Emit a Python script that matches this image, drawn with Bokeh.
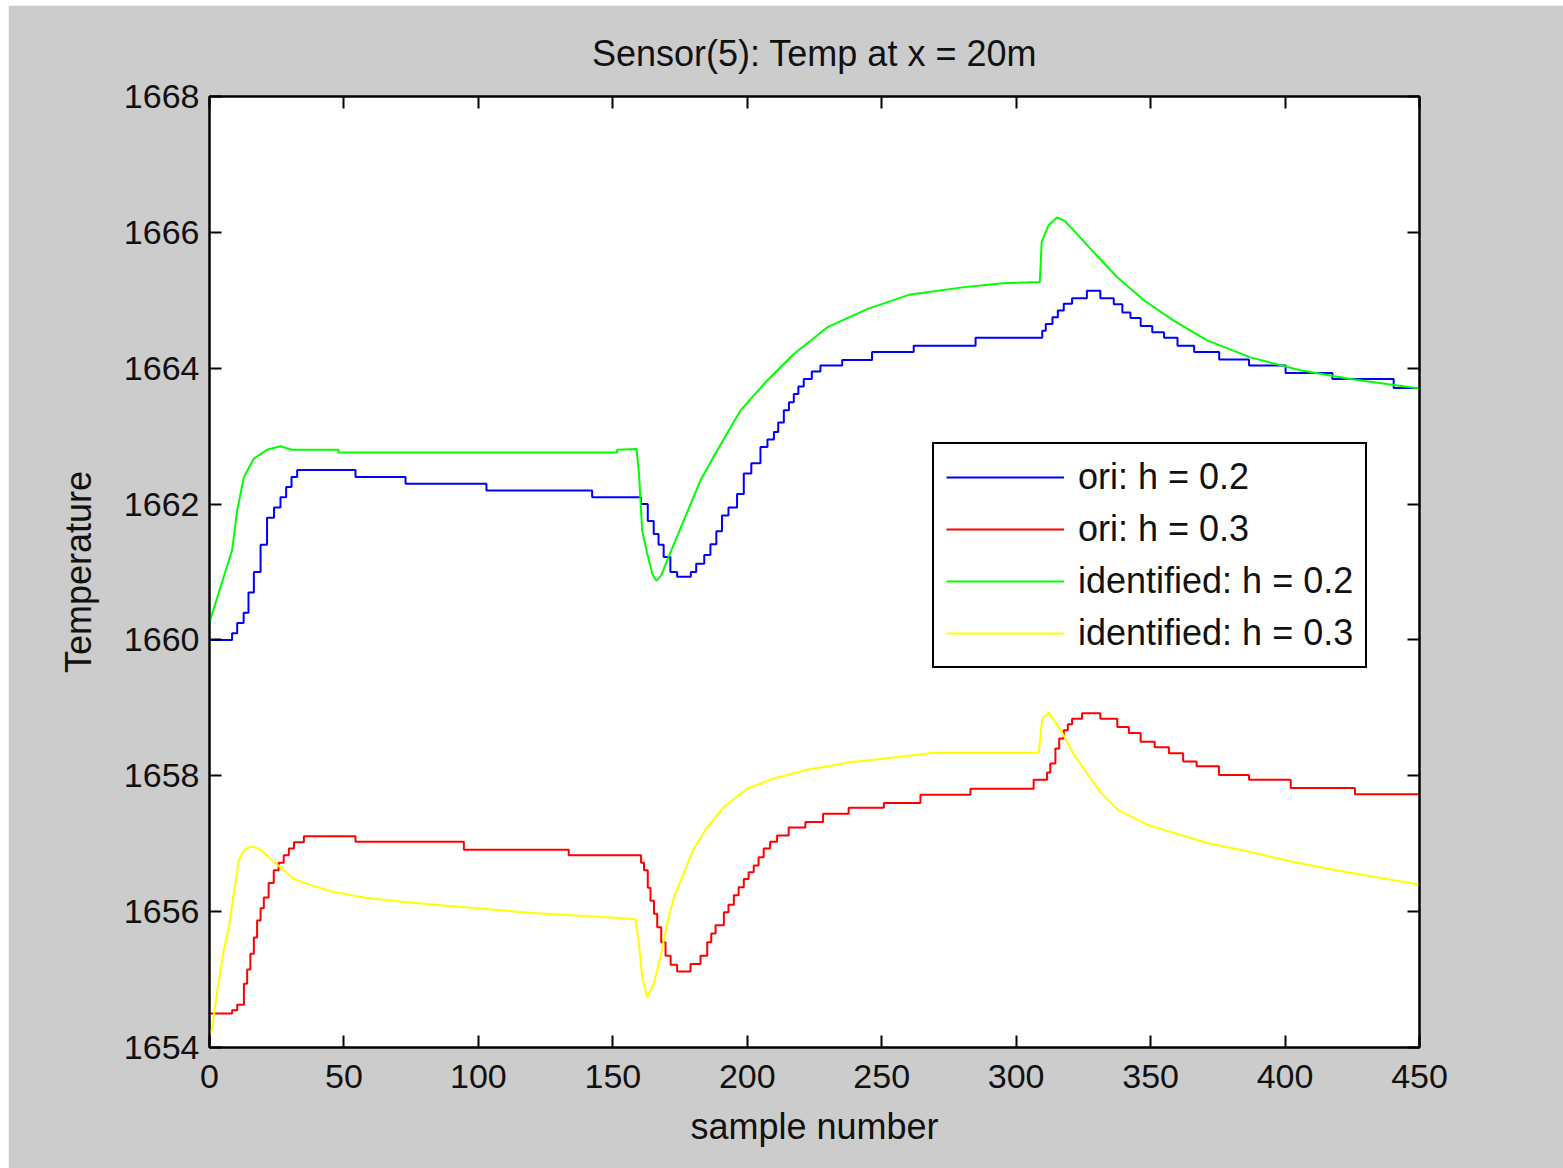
from bokeh.plotting import figure
from bokeh.models import Range1d, FixedTicker, LinearAxis, CustomJSTickFormatter, Legend, LegendItem
from bokeh.embed import file_html
from bokeh.resources import INLINE

# ---------------- data ----------------
title_text = "Sensor(5): Temp at x = 20m"
x_label = "sample number"
y_label = "Temperature"
x_ticks = [0, 50, 100, 150, 200, 250, 300, 350, 400, 450]
y_ticks = [1654, 1656, 1658, 1660, 1662, 1664, 1666, 1668]

# ori: h = 0.2 (stair-stepped data; x where each level starts)
ori02_x = [0, 8.4, 10.3, 12.7, 14.5, 16.5, 19, 21.4, 24, 26.4, 28.5, 30.5, 32.6, 54.3, 72.9, 103, 142.3,
           160.5, 163, 165.2, 167, 168.9, 171.4, 173.9, 179, 181, 184, 186.3, 188.5, 190.6, 193, 196.2,
           198.7, 201.5, 204.9, 207.5, 209.9, 211.5, 213.6, 215.5, 217.3, 219, 221, 224, 227.2, 235.3,
           246.4, 261.9, 284.9, 309.7, 311, 313.5, 315.5, 317.7, 320.8, 326.3, 331.3, 336.3, 339.5,
           342.5, 346.3, 350.6, 355, 360, 366.2, 375.5, 386.6, 400.2, 417.6, 440.4, 450]
ori02_y = [1660.0, 1660.1, 1660.25, 1660.4, 1660.7, 1661.0, 1661.4, 1661.8, 1661.95, 1662.1, 1662.25,
           1662.4, 1662.5, 1662.4, 1662.3, 1662.2, 1662.1, 1662.0, 1661.75, 1661.56, 1661.4, 1661.22,
           1661.0, 1660.93, 1661.0, 1661.12, 1661.25, 1661.41, 1661.6, 1661.83, 1661.95, 1662.15,
           1662.45, 1662.6, 1662.84, 1662.95, 1663.06, 1663.2, 1663.38, 1663.5, 1663.62, 1663.73,
           1663.84, 1663.95, 1664.04, 1664.12, 1664.24, 1664.33, 1664.45, 1664.55, 1664.65, 1664.75,
           1664.85, 1664.95, 1665.03, 1665.14, 1665.03, 1664.94, 1664.82, 1664.74, 1664.62, 1664.53,
           1664.45, 1664.33, 1664.24, 1664.13, 1664.04, 1663.93, 1663.84, 1663.71, 1663.71]

# ori: h = 0.3 (stair-stepped)
ori03_x = [0, 8.4, 10.3, 12.8, 14, 15.2, 16.5, 17.7, 19, 20.2, 22, 23.9, 25.7, 27.6, 29.5, 31.4, 35.1,
           54.3, 94.6, 133.6, 160.5, 161.6, 163, 164, 165.3, 166.5, 168, 169.6, 171.5, 173.9, 178.9,
           182.6, 185.1, 186.6, 188.2, 191.3, 193, 195, 196.8, 198.7, 200.5, 202.4, 204.2, 206.1, 208.5,
           211.1, 215.4, 221.6, 228.2, 237.7, 250.8, 264.4, 283, 306.5, 311.5, 312.7, 314.6, 316, 317.7,
           319.2, 320.8, 324.5, 331.3, 337.6, 341.9, 346.3, 351.5, 356.8, 362.1, 367.1, 375.4, 386.6,
           402.1, 426, 450]
ori03_y = [1654.5, 1654.55, 1654.63, 1654.94, 1655.15, 1655.38, 1655.62, 1655.87, 1656.05, 1656.21,
           1656.42, 1656.61, 1656.72, 1656.83, 1656.93, 1657.02, 1657.11, 1657.03, 1656.91, 1656.83,
           1656.72, 1656.61, 1656.35, 1656.16, 1655.97, 1655.77, 1655.55, 1655.35, 1655.22, 1655.12,
           1655.23, 1655.35, 1655.55, 1655.68, 1655.8, 1655.99, 1656.1, 1656.24, 1656.36, 1656.48,
           1656.58, 1656.68, 1656.8, 1656.93, 1657.03, 1657.12, 1657.24, 1657.32, 1657.44, 1657.53,
           1657.6, 1657.72, 1657.81, 1657.94, 1658.05, 1658.18, 1658.4, 1658.55, 1658.67, 1658.76,
           1658.84, 1658.92, 1658.84, 1658.72, 1658.63, 1658.5, 1658.42, 1658.33, 1658.21, 1658.14,
           1658.01, 1657.94, 1657.82, 1657.73, 1657.73]

# identified: h = 0.2
id02_x = [0, 4.1, 8.4, 10.3, 12.8, 16.5, 21.4, 26.4, 30.7, 48, 48, 151.6, 151.6, 158.8, 159.7, 160.9,
          162.8, 164.7, 166.2, 168, 170.2, 176.4, 182.6, 188.8, 197.5, 207.4, 217.3, 229.7, 244.6, 260,
          280, 295, 308.8, 309.5, 312, 315.2, 318, 321.4, 327.6, 337.6, 347.5, 358.6, 371, 387.1, 405.7,
          424.3, 450]
id02_y = [1660.26, 1660.78, 1661.32, 1661.91, 1662.4, 1662.67, 1662.8, 1662.85, 1662.8, 1662.8, 1662.76,
          1662.76, 1662.8, 1662.81, 1662.47, 1661.61, 1661.27, 1660.97, 1660.87, 1660.95, 1661.17,
          1661.76, 1662.35, 1662.79, 1663.38, 1663.82, 1664.21, 1664.6, 1664.87, 1665.08, 1665.19,
          1665.25, 1665.27, 1665.86, 1666.1, 1666.22, 1666.17, 1666.03, 1665.76, 1665.34, 1665.0,
          1664.7, 1664.41, 1664.16, 1663.97, 1663.84, 1663.7]

# identified: h = 0.3
id03_x = [0, 1, 2.9, 5.3, 7.2, 9, 10.9, 12.8, 15.2, 18.3, 22.7, 26.4, 31.4, 37.6, 46.2, 58.6, 73.5, 95.8,
          120.6, 145.4, 158.4, 159.7, 160.9, 162.8, 165.2, 167.7, 170.2, 172.7, 175.8, 180.1, 185.1,
          191.3, 199.9, 209.9, 222.3, 238.4, 257, 269.3, 308.4, 309.7, 312.2, 316.6, 321.4, 326.4,
          331.3, 338.1, 348.7, 358.6, 371, 385.9, 403.2, 423.1, 450]
id03_y = [1654.2, 1654.28, 1654.84, 1655.43, 1655.77, 1656.26, 1656.75, 1656.9, 1656.96, 1656.93,
          1656.78, 1656.65, 1656.48, 1656.39, 1656.29, 1656.2, 1656.14, 1656.06, 1655.98, 1655.92,
          1655.89, 1655.53, 1655.04, 1654.74, 1654.94, 1655.33, 1655.82, 1656.21, 1656.51, 1656.93,
          1657.24, 1657.54, 1657.81, 1657.96, 1658.09, 1658.2, 1658.28, 1658.34, 1658.34, 1658.84,
          1658.93, 1658.67, 1658.32, 1658.03, 1657.76, 1657.49, 1657.28, 1657.16, 1657.01, 1656.89,
          1656.73, 1656.58, 1656.4]

legend_labels = ["ori: h = 0.2", "ori: h = 0.3", "identified: h = 0.2", "identified: h = 0.3"]
colors = ["#0000ff", "#ff0000", "#00ff00", "#ffff00"]

# ---------------- figure ----------------
FONT = "Liberation Sans"
TEXT = "#111111"

p = figure(width=1555, height=1163, output_backend="svg", toolbar_location=None,
           x_range=Range1d(0, 450), y_range=Range1d(1654, 1668),
           min_border_left=201, min_border_right=144, min_border_top=91, min_border_bottom=121)
p.margin = (5, 0, 0, 8)
p.border_fill_color = "#cccccc"
p.background_fill_color = "white"
p.outline_line_color = "black"
p.outline_line_width = 2
p.xgrid.visible = False
p.ygrid.visible = False

p.title.text = title_text
p.title.align = "center"
p.title.text_font = FONT
p.title.text_font_style = "normal"
p.title.text_font_size = "36px"
p.title.text_color = TEXT
p.title.standoff = 46

def style_axis(ax, ticks, labels=True):
    ax.ticker = FixedTicker(ticks=ticks)
    ax.major_tick_in = 12
    ax.major_tick_out = 0
    ax.minor_tick_in = 0
    ax.minor_tick_out = 0
    ax.axis_line_color = "black"
    ax.axis_line_width = 2
    ax.major_tick_line_color = "black"
    ax.major_tick_line_width = 2
    if labels:
        ax.major_label_text_font = FONT
        ax.major_label_text_font_size = "34px"
        ax.major_label_text_color = TEXT
    else:
        ax.formatter = CustomJSTickFormatter(code="return ''")
        ax.major_label_text_font_size = "1px"
        ax.major_label_standoff = 0

style_axis(p.xaxis[0], x_ticks)
style_axis(p.yaxis[0], y_ticks)
p.xaxis[0].major_label_standoff = 17
p.yaxis[0].major_label_standoff = 10
p.xaxis[0].axis_label = x_label
p.yaxis[0].axis_label = y_label
for ax in (p.xaxis[0], p.yaxis[0]):
    ax.axis_label_text_font = FONT
    ax.axis_label_text_font_size = "36px"
    ax.axis_label_text_font_style = "normal"
    ax.axis_label_text_color = TEXT
p.xaxis[0].axis_label_standoff = 15
p.yaxis[0].axis_label_standoff = 22

top_ax = LinearAxis()
right_ax = LinearAxis()
style_axis(top_ax, x_ticks, labels=False)
style_axis(right_ax, y_ticks, labels=False)
p.add_layout(top_ax, "above")
p.add_layout(right_ax, "right")

r1 = p.step(ori02_x, ori02_y, mode="after", line_color=colors[0], line_width=2)
r2 = p.step(ori03_x, ori03_y, mode="after", line_color=colors[1], line_width=2)
r3 = p.line(id02_x, id02_y, line_color=colors[2], line_width=2)
r4 = p.line(id03_x, id03_y, line_color=colors[3], line_width=2)

legend = Legend(items=[LegendItem(label=lab, renderers=[r]) for lab, r in zip(legend_labels, [r1, r2, r3, r4])],
                location=(723, 379), margin=0, padding=12, spacing=10,
                glyph_width=118, glyph_height=34, label_height=34, label_standoff=14,
                label_text_font=FONT, label_text_font_size="36px", label_text_color=TEXT,
                border_line_color="black", border_line_width=2, border_line_alpha=1.0,
                background_fill_color="white", background_fill_alpha=1.0)
p.add_layout(legend, "center")

open("out.html", "w").write(file_html(p, INLINE))
